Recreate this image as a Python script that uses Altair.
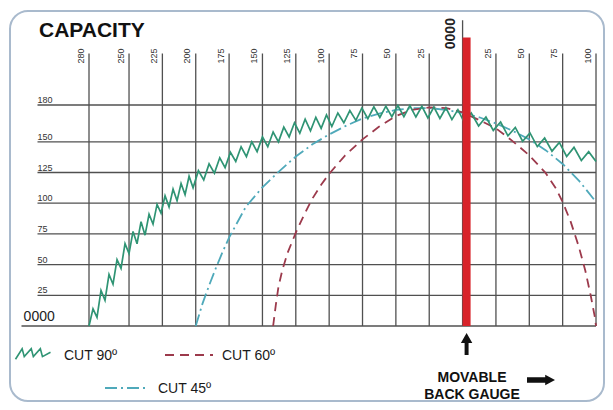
import altair as alt
import pandas as pd

# ---------------- data ----------------
title_text = ["CAPACITY"]
top_ticks = [-280, -250, -225, -200, -175, -150, -125, -100, -75, -50, -25, 25, 50, 75, 100]
top_labels = ["280", "250", "225", "200", "175", "150", "125", "100", "75", "50", "25", "25", "50", "75", "100"]
zero_tick = [0]
zero_label = ["0000"]
left_ticks = [25, 50, 75, 100, 125, 150, 180]
left_labels = ["25", "50", "75", "100", "125", "150", "180"]

cut90_x = [-280, -277, -274, -271, -268, -265, -262, -259, -256, -253, -250, -247, -244, -241, -238,
           -235, -232, -229, -226, -223, -220, -217, -214, -211, -208, -205, -202,
           -198, -194, -190, -186, -182, -178, -174, -170, -166, -162, -158, -154, -150, -146, -142,
           -138, -134, -130, -126, -122, -118, -114, -110, -106, -102, -98,
           -93.5, -89, -84.5, -80, -75.5, -71, -66.5, -62, -57.5, -53, -48.5, -44, -39.5, -35, -30.5,
           -26, -21.5, -17, -12.5, -8, -3.5, 1,
           6.5, 12, 17.5, 23, 28.5, 34, 39.5, 45, 50.5, 56, 61.5, 67, 72.5, 78, 83.5, 89, 94.5, 100]
cut90_y = [0, 14, 7, 29, 21, 42, 34, 54, 47, 67, 59, 77, 67, 85, 74,
           91, 83, 99, 92, 106, 97, 111.5, 102, 116, 107, 122, 112.5,
           126.5, 119, 132, 124.5, 137, 129, 141.5, 134, 146, 138, 150, 142, 154, 146, 158,
           150, 162, 154, 165.5, 157, 168.5, 159, 170, 161, 172, 162.5,
           173.5, 165.5, 175.5, 167.5, 177.5, 168.8, 178.5, 169.8, 179, 170.5, 179.5, 170.5, 179.5, 170.2, 178.9,
           169.5, 178.3, 169, 177.7, 168.1, 176.2, 166.3,
           173.5, 162.9, 170.3, 159.3, 166.1, 154.9, 161.7, 150.5, 157.3, 146.1, 153.1, 142.4, 149.5, 138.1, 145.5, 134.8, 142, 134]

cut45_x = [-200, -195, -190, -185, -180, -175, -170, -162.5, -150, -137.5, -125, -112.5, -100, -87.5, -75,
           -62.5, -50, -37.5, -25, -12.5, 0, 12.5, 25, 37.5, 50, 62.5, 75, 87.5, 100]
cut45_y = [0, 18, 33, 47, 60, 72, 82, 97, 113, 126, 138, 148, 156, 163, 169,
           173, 176, 177.5, 177.5, 176, 173.5, 170, 165, 159, 152, 143, 132, 118, 101]

cut60_x = [-142, -140, -138, -135, -131, -125, -119, -113, -106, -100, -88, -75, -63, -50, -38, -25, -12, 0,
           12, 25, 37, 50, 62, 70, 75, 81, 87, 92, 96, 99, 100]
cut60_y = [0, 17, 32, 46, 60, 76, 90, 103, 115, 124, 139, 152, 162, 171, 176, 178, 177.5, 174,
           168, 161, 151, 139, 125, 112, 101, 85, 65, 45, 25, 8, 0]

gauge_from = [0]
gauge_to = [6]
gauge_top = [235]

series_names = ["CUT 90º", "CUT 60º", "CUT 45º"]
gauge_text = ["MOVABLE", "BACK GAUGE"]

# ---------------- styles ----------------
GREEN = "#2f9474"
TEAL = "#4fa9ba"
MAROON = "#9c3a4c"
RED = "#d8232a"
GRID = "#505050"
FONT = "Liberation Sans"

W, H = 597, 394
X = alt.Scale(domain=[-340.71, 106.74], nice=False, zero=False)
Y = alt.Scale(domain=[-61.9, 259.0], nice=False, zero=False)

one = pd.DataFrame({"a": [0]})


def xq(f):
    return alt.X(f, type="quantitative", scale=X, axis=None)


def yq(f):
    return alt.Y(f, type="quantitative", scale=Y, axis=None)


border = alt.Chart(one).mark_rect(
    cornerRadius=18, fill="white", stroke="#a9bacd", strokeWidth=2
).encode(x=alt.value(2), x2=alt.value(596), y=alt.value(3), y2=alt.value(393))

df_top = pd.DataFrame({"v": top_ticks, "label": top_labels})
vgrid = alt.Chart(df_top).transform_calculate(y0="0", y1="222").mark_rule(
    color=GRID, strokeWidth=1.3
).encode(x=xq("v"), y=yq("y0"), y2="y1:Q")

df_zero = pd.DataFrame({"v": zero_tick, "label": zero_label})
zgrid = alt.Chart(df_zero).transform_calculate(y0="0", y1="249").mark_rule(
    color=GRID, strokeWidth=1.3
).encode(x=xq("v"), y=yq("y0"), y2="y1:Q")

df_left = pd.DataFrame({"v": left_ticks, "label": left_labels})
hgrid = alt.Chart(df_left).transform_calculate(x0="-318.6", x1="100").mark_rule(
    color=GRID, strokeWidth=1.3
).encode(y=yq("v"), x=xq("x0"), x2="x1:Q")
hzero = alt.Chart(df_zero).transform_calculate(x0="-330.6", x1="100").mark_rule(
    color=GRID, strokeWidth=1.5
).encode(y=yq("v"), x=xq("x0"), x2="x1:Q")


def curve(xs, ys, color, dash=None, width=1.8):
    df = pd.DataFrame({"x": xs, "y": ys, "i": list(range(len(xs)))})
    kw = dict(color=color, strokeWidth=width, strokeJoin="miter", strokeCap="butt")
    if dash:
        kw["strokeDash"] = dash
    return alt.Chart(df).mark_line(**kw).encode(x=xq("x"), y=yq("y"), order="i:Q")


c45 = curve(cut45_x, cut45_y, TEAL, [12, 4, 2, 4])
c60 = curve(cut60_x, cut60_y, MAROON, [9, 6])
c90 = curve(cut90_x, cut90_y, GREEN, None, 1.7)

df_gauge = pd.DataFrame({"x0": gauge_from, "x1": gauge_to, "top": gauge_top})
gauge = alt.Chart(df_gauge).transform_calculate(bottom="0").mark_rect(color=RED).encode(
    x=xq("x0"), x2="x1:Q", y=yq("bottom"), y2="top:Q"
)

UP_ARROW = "M-0.18,1L0.18,1L0.18,-0.1L0.52,-0.1L0,-1L-0.52,-0.1L-0.18,-0.1Z"
RIGHT_ARROW = "M-1,-0.2L0.3,-0.2L0.3,-0.38L1,0L0.3,0.38L0.3,0.2L-1,0.2Z"
ZIGZAG = "M-1,0.3L-0.62,-0.3L-0.5,0.15L-0.1,-0.3L0.02,0.15L0.42,-0.3L0.54,0.15L1,-0.1"

up_arrow = alt.Chart(df_gauge).transform_calculate(
    ax="(datum.x0 + datum.x1) / 2", ay="-14.7"
).mark_point(shape=UP_ARROW, filled=True, color="#111111", size=484, opacity=1).encode(
    x=xq("ax"), y=yq("ay")
)

top_text = alt.Chart(df_top).transform_calculate(lx="datum.v - 6.3", ly="226").mark_text(
    angle=270, align="right", baseline="middle", fontSize=9, font=FONT, color="#333333"
).encode(x=xq("lx"), y=yq("ly"), text="label:N")

zero_text = alt.Chart(df_zero).transform_calculate(lx="datum.v - 9", ly="250.8").mark_text(
    angle=270, align="right", baseline="middle", fontSize=14, font=FONT, fontWeight="bold",
    color="#222222"
).encode(x=xq("lx"), y=yq("ly"), text="label:N")

left_text = alt.Chart(df_left).transform_calculate(lx="-318.6").mark_text(
    align="left", baseline="alphabetic", dy=-2, fontSize=9, font=FONT, color="#333333"
).encode(x=xq("lx"), y=yq("v"), text="label:N")

zero_left = alt.Chart(df_zero).transform_calculate(lx="-329").mark_text(
    align="left", baseline="alphabetic", dy=-5, fontSize=14, font=FONT, color="#222222"
).encode(x=xq("lx"), y=yq("v"), text="label:N")

title = alt.Chart(pd.DataFrame({"t": title_text})).mark_text(
    align="left", baseline="alphabetic", fontSize=21, fontWeight="bold", font=FONT, color="#111111"
).encode(x=alt.value(31), y=alt.value(29), text="t:N")

# legend
leg90_sym = alt.Chart(one).mark_point(
    shape=ZIGZAG, filled=False, color=GREEN, strokeWidth=1.6, size=1225, opacity=1
).encode(x=alt.value(25), y=alt.value(346))
leg60_sym = alt.Chart(one).mark_rule(color=MAROON, strokeWidth=2, strokeDash=[9, 6]).encode(
    x=alt.value(157), x2=alt.value(205), y=alt.value(347)
)
leg45_sym = alt.Chart(one).mark_rule(color=TEAL, strokeWidth=2, strokeDash=[12, 4, 2, 4]).encode(
    x=alt.value(97), x2=alt.value(139), y=alt.value(380)
)
df_leg = pd.DataFrame({"name": series_names})
leg_text_style = dict(align="left", baseline="alphabetic", fontSize=14, font=FONT, color="#1a1a1a")
leg90_txt = alt.Chart(df_leg).transform_filter(alt.datum.name == series_names[0]).mark_text(
    **leg_text_style).encode(x=alt.value(56), y=alt.value(352), text="name:N")
leg60_txt = alt.Chart(df_leg).transform_filter(alt.datum.name == series_names[1]).mark_text(
    **leg_text_style).encode(x=alt.value(214), y=alt.value(352), text="name:N")
leg45_txt = alt.Chart(df_leg).transform_filter(alt.datum.name == series_names[2]).mark_text(
    **leg_text_style).encode(x=alt.value(150), y=alt.value(385), text="name:N")

df_gt = pd.DataFrame({"t": gauge_text})
gt_style = dict(align="center", baseline="alphabetic", fontSize=14, fontWeight="bold", font=FONT,
                color="#111111")
gt1 = alt.Chart(df_gt).transform_filter(alt.datum.t == gauge_text[0]).mark_text(**gt_style).encode(
    x=alt.value(464), y=alt.value(374), text="t:N")
gt2 = alt.Chart(df_gt).transform_filter(alt.datum.t == gauge_text[1]).mark_text(**gt_style).encode(
    x=alt.value(464), y=alt.value(391), text="t:N")
right_arrow = alt.Chart(one).mark_point(
    shape=RIGHT_ARROW, filled=True, color="#111111", size=784, opacity=1
).encode(x=alt.value(533), y=alt.value(372))

chart = alt.layer(
    border, vgrid, zgrid, hgrid, hzero, c45, c60, c90, gauge, up_arrow,
    top_text, zero_text, left_text, zero_left, title,
    leg90_sym, leg60_sym, leg45_sym, leg90_txt, leg60_txt, leg45_txt,
    gt1, gt2, right_arrow,
).properties(
    width=W, height=H, autosize=alt.AutoSizeParams(type="none"), padding=0, background="white"
).configure_view(stroke=None)

chart.save("out.html", embed_options={"renderer": "svg", "actions": False})
